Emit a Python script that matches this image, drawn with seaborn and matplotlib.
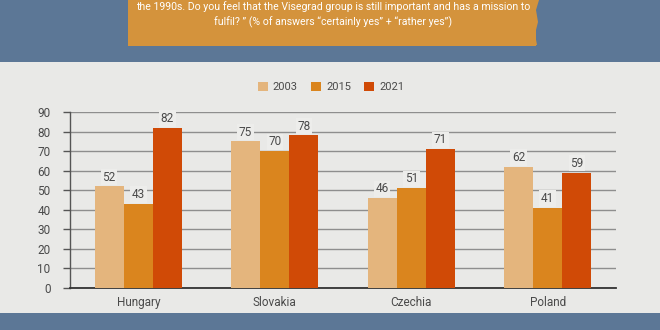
import matplotlib
matplotlib.use("Agg")
import matplotlib.pyplot as plt
from matplotlib.patches import Rectangle, Polygon
import seaborn as sns
import pandas as pd

countries = ["Hungary", "Slovakia", "Czechia", "Poland"]
years = ["2003", "2015", "2021"]
values_2003 = [52, 75, 46, 62]
values_2015 = [43, 70, 51, 41]
values_2021 = [82, 78, 71, 59]
y_ticks = [0, 10, 20, 30, 40, 50, 60, 70, 80, 90]

title_lines = [
    "the 1990s. Do you feel that the Visegrad group is still important and has a mission to",
    "fulfil? \u201d (% of answers \u201ccertainly yes\u201d + \u201crather yes\u201d)",
]

colors = ["#E4B57D", "#DA851E", "#D04A06"]
blue = "#5C7796"
panel = "#E9E9E7"
orange_box = "#D4933C"
text_col = "#4A4A4A"

df = pd.DataFrame({
    "country": countries * 3,
    "year": [y for y in years for _ in countries],
    "value": values_2003 + values_2015 + values_2021,
})

sns.set_theme(style="white")
plt.rcParams["font.family"] = ["Roboto", "DejaVu Sans"]

W, H = 660, 330
fig = plt.figure(figsize=(W / 100, H / 100), dpi=100)
fig.patch.set_facecolor(blue)

# light panel behind the chart
fig.add_artist(Rectangle((0, 17 / H), 1, (313 - 62) / H, transform=fig.transFigure,
                         facecolor=panel, edgecolor="none", zorder=0))
# torn orange note with the question text
note = [(128, 0), (539, 0), (536, 10), (538, 22), (535, 34), (537, 45), (128, 46)]
fig.add_artist(Polygon([(x / W, 1 - y / H) for x, y in note] + [(539 / W, 1.1), (128 / W, 1.1)],
                       closed=True, transform=fig.transFigure,
                       facecolor=orange_box, edgecolor="none", zorder=1))
fig.add_artist(Rectangle((128 / W, 1 - 46 / H), 408 / W, 46 / H, transform=fig.transFigure,
                         facecolor=orange_box, edgecolor="none", zorder=1))
for i, line in enumerate(title_lines):
    fig.text(333 / W, 1 - (7 + 15 * i) / H, line, ha="center", va="center",
             color="white", fontsize=7.6, zorder=2)

ax = fig.add_axes([70 / W, (330 - 288) / H, (616 - 70) / W, (288 - 112) / H])
ax.set_facecolor("none")
sns.barplot(data=df, x="country", y="value", hue="year", palette=colors,
            width=0.64, gap=0, saturation=1, ax=ax, zorder=3, legend=True,
            linewidth=0, edgecolor="none")

ax.set_ylim(0, 90)
ax.set_xlim(-0.5, 3.5)
ax.set_yticks(y_ticks)
ax.yaxis.grid(True, color="#8E8E8E", linewidth=1)
ax.set_axisbelow(True)
ax.set_xlabel("")
ax.set_ylabel("")
for side in ["top", "right"]:
    ax.spines[side].set_visible(False)
ax.spines["left"].set_color("#555555")
ax.spines["left"].set_linewidth(1)
ax.spines["bottom"].set_color("#333333")
ax.spines["bottom"].set_linewidth(1.3)
ax.tick_params(axis="y", length=5, width=1, color="#555555", labelsize=8.5,
               labelcolor=text_col, pad=9, left=True)
ax.tick_params(axis="x", length=0, labelsize=8.5, labelcolor=text_col, pad=6)

for cont in ax.containers:
    ax.bar_label(cont, fmt="%d", padding=2, fontsize=8.5, color=text_col,
                 bbox=dict(facecolor="#EDEDEB", edgecolor="none", pad=1.2), zorder=4)

handles, labels = ax.get_legend_handles_labels()
for h in handles:
    h.set_edgecolor("none")
    h.set_linewidth(0)
ax.legend(handles, labels, loc="center", bbox_to_anchor=(331 / W, 1 - 87 / H),
          bbox_transform=fig.transFigure, ncol=3, frameon=False, fontsize=8,
          handlelength=0.9, handleheight=0.9, handletextpad=0.45, columnspacing=1.2,
          labelcolor=text_col)

fig.savefig("out.png", dpi=100, facecolor=fig.get_facecolor())
